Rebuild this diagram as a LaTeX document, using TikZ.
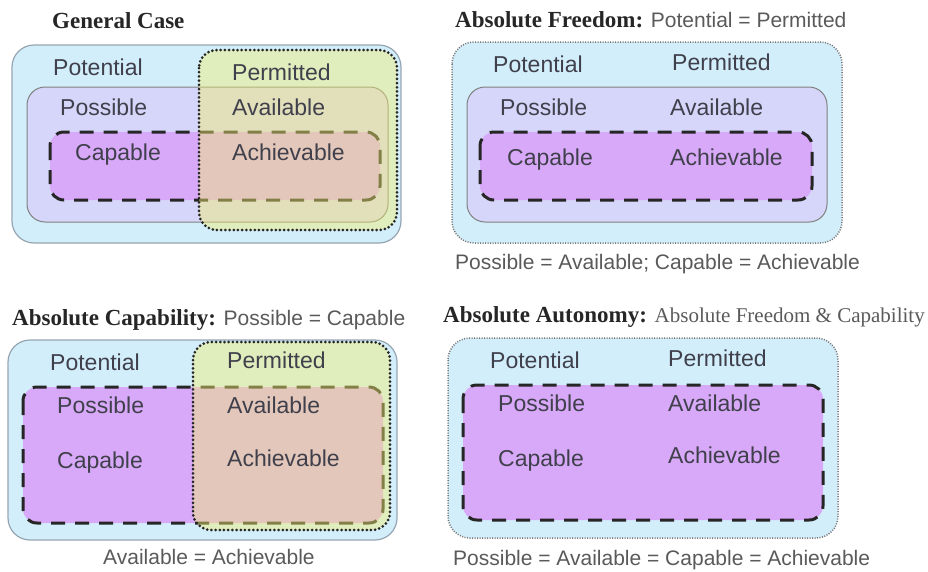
\documentclass[tikz,border=0pt]{standalone}
\usepackage{fontspec}
\setmainfont{Liberation Serif}
\setsansfont{Liberation Sans}
\definecolor{potblue}{RGB}{211,238,251}
\definecolor{posslav}{RGB}{214,214,250}
\definecolor{capviol}{RGB}{216,169,248}
\definecolor{permgreen}{RGB}{242,236,112}
\definecolor{labelgray}{RGB}{64,64,76}
\definecolor{edgegray}{RGB}{150,165,178}
\definecolor{subgray}{RGB}{90,90,90}
\tikzset{
  potbox/.style={fill=potblue, draw=edgegray, line width=1.2pt, rounded corners=22pt},
  freebox/.style={fill=potblue, draw=black!55, line width=1.5pt, dash pattern=on 1pt off 1.5pt, rounded corners=22pt},
  possbox/.style={fill=posslav, draw=gray, line width=1pt, rounded corners=18pt},
  capbox/.style={fill=capviol, draw=black!85, line width=3pt, dash pattern=on 14pt off 10pt, rounded corners=14pt},
  permfill/.style={fill=permgreen, fill opacity=0.45, rounded corners=18pt},
  permedge/.style={draw=black!85, line width=3pt, dash pattern=on 0pt off 4.2pt, line cap=round, rounded corners=18pt},
  lbl/.style={font=\sffamily\fontsize{23}{27}\selectfont, text=labelgray, anchor=west, inner sep=0pt, text height=17pt, text depth=0pt},
  ttl/.style={font=\bfseries\fontsize{23}{27}\selectfont, text=black!85, anchor=west, inner sep=0pt, text height=15pt, text depth=0pt},
  cpt/.style={font=\sffamily\fontsize{21}{25}\selectfont, text=subgray, anchor=west, inner sep=0pt, text height=15pt, text depth=0pt}
}
\newcommand{\subsans}[1]{{\sffamily\mdseries\fontsize{21}{25}\selectfont\color{subgray}#1}}
\newcommand{\subserif}[1]{{\rmfamily\mdseries\fontsize{21}{25}\selectfont\color{subgray}#1}}

\begin{document}
\begin{tikzpicture}[x=1pt,y=-1pt]
\useasboundingbox[fill=white] (0,0) rectangle (928,571);

% general case
\node[ttl] (t1) at (52,21) {General Case};
\draw[potbox] (12,45) rectangle (401,243);
\draw[possbox] (27,87) rectangle (388,222);
\draw[capbox] (50,132) rectangle (380,200);
\fill[permfill] (199,50) rectangle (397,230);
\draw[permedge] (199,50) rectangle (397,230);
\node[lbl] (pot1) at (53,67) {Potential};
\node[lbl] (per1) at (232,72) {Permitted};
\node[lbl] (pos1) at (60,107) {Possible};
\node[lbl] (ava1) at (232,107) {Available};
\node[lbl] (cap1) at (75,152) {Capable};
\node[lbl] (ach1) at (232,152) {Achievable};

% absolute freedom
\node[ttl] (t2) at (455,20) {Absolute Freedom: \subsans{Potential = Permitted}};
\draw[freebox] (452,42) rectangle (842,243);
\draw[possbox] (467,87) rectangle (827,222);
\draw[capbox] (480,132) rectangle (812,200);
\node[lbl] (pot2) at (493,64) {Potential};
\node[lbl] (per2) at (672,62) {Permitted};
\node[lbl] (pos2) at (500,107) {Possible};
\node[lbl] (ava2) at (670,107) {Available};
\node[lbl] (cap2) at (507,157) {Capable};
\node[lbl] (ach2) at (670,157) {Achievable};
\node[cpt] (c2) at (455,262) {Possible = Available; Capable = Achievable};

% absolute capability
\node[ttl] (t3) at (12,318) {Absolute Capability: \subsans{Possible = Capable}};
\draw[potbox] (8,340) rectangle (397,540);
\draw[capbox] (23,387) rectangle (383,523);
\fill[permfill] (193,342) rectangle (390,530);
\draw[permedge] (193,342) rectangle (390,530);
\node[lbl] (pot3) at (50,362) {Potential};
\node[lbl] (per3) at (227,360) {Permitted};
\node[lbl] (pos3) at (57,405) {Possible};
\node[lbl] (ava3) at (227,405) {Available};
\node[lbl] (cap3) at (57,460) {Capable};
\node[lbl] (ach3) at (227,458) {Achievable};
\node[cpt] (c3) at (103,557) {Available = Achievable};

% absolute autonomy
\node[ttl] (t4) at (443,315) {Absolute Autonomy: \subserif{Absolute Freedom \& Capability}};
\draw[freebox] (448,338) rectangle (838,538);
\draw[capbox] (463,385) rectangle (823,520);
\node[lbl] (pot4) at (490,360) {Potential};
\node[lbl] (per4) at (668,358) {Permitted};
\node[lbl] (pos4) at (498,403) {Possible};
\node[lbl] (ava4) at (668,403) {Available};
\node[lbl] (cap4) at (498,458) {Capable};
\node[lbl] (ach4) at (668,455) {Achievable};
\node[cpt] (c4) at (453,558) {Possible = Available = Capable = Achievable};
\end{tikzpicture}
\end{document}
